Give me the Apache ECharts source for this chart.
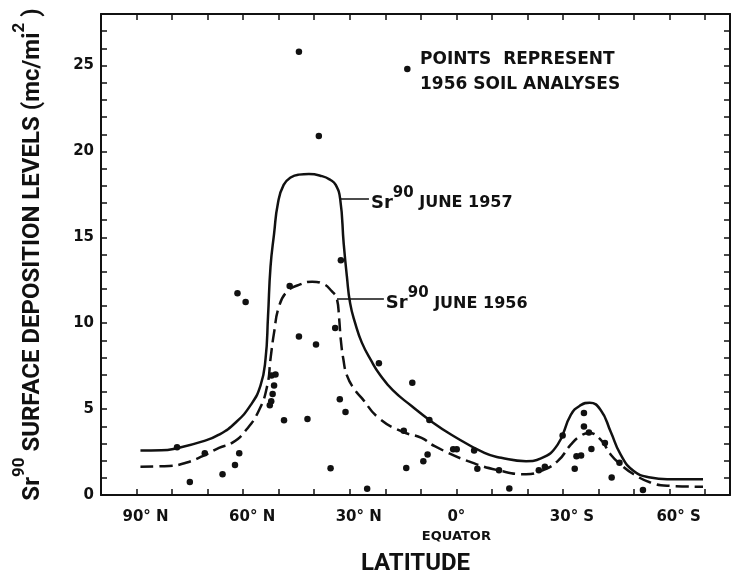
<!DOCTYPE html>
<html><head><meta charset="utf-8">
<script src="https://cdn.jsdelivr.net/npm/echarts@6/dist/echarts.min.js"></script>
<style>html,body{margin:0;padding:0;background:#fff}#c{width:733px;height:581px}</style>
</head><body><div id="c"></div>
<script>
// x value: latitude, north negative, south positive (90N = -90, 60S = 60)
const xTickValues = [-90, -60, -30, 0, 30, 60];
const xTickText = ['90° N', '60° N', '30° N', '0°', '30° S', '60° S'];
const yTickValues = [0, 5, 10, 15, 20, 25];

// 1956 soil analyses (points)
const soilLat = [-78.6,-75.0,-70.8,-65.8,-62.3,-61.1,-61.6,-59.3,-52.0,-50.9,-51.3,-51.7,-52.1,-52.5,-48.5,-46.9,-44.3,-44.3,-41.9,-39.5,-38.7,-34.1,-32.5,-32.8,-31.2,-35.4,-25.1,-21.8,-13.8,-12.4,-14.8,-14.1,-7.6,-8.1,-9.3,-0.9,0.1,5.0,5.9,12.0,14.9,23.2,24.9,29.9,33.3,33.8,35.1,35.9,35.9,37.3,38.0,41.8,45.9,43.7,52.5];
const soilVal = [2.78,0.75,2.43,1.21,1.74,2.43,11.75,11.23,6.96,7.02,6.38,5.88,5.46,5.23,4.35,12.17,25.8,9.22,4.43,8.76,20.9,9.72,13.67,5.58,4.83,1.55,0.37,7.67,24.8,6.53,3.74,1.57,4.37,2.36,1.97,2.66,2.66,2.59,1.53,1.44,0.38,1.44,1.65,3.47,1.53,2.26,2.30,4.77,3.99,3.64,2.68,3.03,1.88,1.02,0.29];

// Sr90 June 1957 (solid)
const lat1957 = [-88.9,-83.0,-78.4,-71.4,-66.8,-62.1,-57.9,-55.1,-53.7,-53.0,-52.3,-51.3,-50.2,-48.6,-46.5,-44.3,-41.5,-37.8,-35.5,-34.0,-32.7,-31.7,-30.8,-29.9,-28.5,-26.6,-23.8,-21.6,-17.9,-12.6,-7.6,-1.4,7.9,12.6,19.6,23.8,28.5,32.2,35.0,37.5,40.6,43.4,46.2,49.9,54.6,59.3,69.4];
const val1957 = [2.59,2.60,2.74,3.12,3.51,4.22,5.23,6.38,7.92,10.4,13.28,15.2,17.0,18.05,18.5,18.65,18.68,18.56,18.35,18.07,17.24,14.62,12.71,11.17,10.02,8.87,7.76,7.03,6.10,5.18,4.37,3.51,2.45,2.17,1.97,2.13,2.93,4.66,5.23,5.37,4.95,3.70,2.36,1.40,1.02,0.92,0.92];

// Sr90 June 1956 (dashed)
const lat1956 = [-88.9,-80.8,-76.1,-71.4,-66.8,-63.0,-59.3,-55.5,-53.2,-52.3,-51.3,-49.9,-47.6,-44.3,-40.6,-37.8,-35.0,-33.6,-33.0,-32.5,-31.8,-30.8,-28.9,-26.6,-21.9,-15.4,-9.8,-6.1,3.3,12.6,19.6,23.8,28.5,32.2,35.0,37.3,40.6,43.4,46.2,49.9,54.6,59.3,69.4];
const val1956 = [1.65,1.69,1.88,2.26,2.74,3.05,3.75,4.95,6.38,7.92,9.45,10.98,11.85,12.23,12.42,12.32,11.85,11.4,10.3,9.0,7.9,6.96,6.21,5.64,4.49,3.70,3.32,2.84,1.97,1.40,1.21,1.40,1.97,2.93,3.45,3.61,3.22,2.36,1.78,1.21,0.73,0.54,0.48];

const INK = '#111';
const zip = (a, b) => a.map((v, i) => [v, b[i]]);

const labelRich = {
  sr: {fontFamily: 'DejaVu Sans', fontWeight: 'bold', fontSize: 18, color: INK, padding: [9, 0, 0, 0]},
  sup: {fontFamily: 'DejaVu Sans', fontWeight: 'bold', fontSize: 15, color: INK, verticalAlign: 'top'},
  t: {fontFamily: 'DejaVu Sans', fontWeight: 'bold', fontSize: 16, color: INK, padding: [9, 0, 0, 0]}
};

function leader(lat, val, idx, len, text) {
  const s = [lat[idx], val[idx]];
  return {
    silent: true,
    symbol: ['arrow', 'none'],
    symbolSize: [6, 0],
    lineStyle: {type: 'solid', color: INK, width: 1.5},
    label: {show: true, position: 'end', distance: 2, formatter: text, rich: labelRich},
    data: [[{coord: s}, {coord: [s[0] + len, s[1]]}]]
  };
}

const axisLineStyle = {onZero: false, lineStyle: {color: INK, width: 2}};
const tickStyle = {inside: true, length: 6, lineStyle: {color: INK, width: 1.5}};
const baseFont = {fontFamily: 'DejaVu Sans', fontWeight: 'bold', color: INK};

const chart = echarts.init(document.getElementById('c'), null, {renderer: 'canvas'});
chart.setOption({
  animation: false,
  backgroundColor: '#fff',
  title: {
    text: 'POINTS  REPRESENT\n1956 SOIL ANALYSES',
    left: 420, top: 47, padding: 0,
    textStyle: {fontFamily: 'DejaVu Sans', fontWeight: 'bold', fontSize: 17, lineHeight: 25, color: INK}
  },
  grid: {left: 101, right: 0, top: 14, bottom: 80},
  xAxis: [{
    type: 'value', min: -100, max: 77, interval: 10, position: 'bottom',
    axisLine: axisLineStyle, axisTick: tickStyle, splitLine: {show: false},
    axisLabel: {
      margin: 12,
      formatter: v => {
        const i = xTickValues.indexOf(Math.round(v));
        if (i < 0 || Math.abs(v - Math.round(v)) > 1e-6) return '';
        if (xTickValues[i] === 0) return '{z|' + xTickText[i] + '}\n{eq|EQUATOR}';
        return '{p|' + xTickText[i] + '}';
      },
      rich: {
        p: Object.assign({fontSize: 15, lineHeight: 20, padding: [0, 0, 0, 18]}, baseFont),
        z: Object.assign({fontSize: 15, lineHeight: 20}, baseFont),
        eq: Object.assign({fontSize: 13, lineHeight: 20}, baseFont)
      }
    },
    name: 'LATITUDE', nameLocation: 'middle', nameGap: 57,
    nameTextStyle: {fontFamily: 'Roboto', fontWeight: 'bold', fontSize: 24, color: INK}
  }, {
    type: 'value', min: -100, max: 77, interval: 10, position: 'top',
    axisLine: axisLineStyle, axisTick: tickStyle, axisLabel: {show: false}, splitLine: {show: false}
  }],
  yAxis: [{
    type: 'value', min: 0, max: 28, interval: 1, position: 'left',
    axisLine: axisLineStyle, axisTick: tickStyle, splitLine: {show: false},
    axisLabel: Object.assign({margin: 7, fontSize: 15,
      formatter: v => yTickValues.indexOf(v) >= 0 ? String(v) : ''}, baseFont),
    name: '{m|Sr}{s|90}{m| SURFACE DEPOSITION LEVELS (mc/mi}{s|2}{m| )}',
    nameLocation: 'middle', nameRotate: 90, nameGap: 56,
    nameTextStyle: {
      rich: {
        m: {fontFamily: 'Roboto', fontWeight: 'bold', fontSize: 24, color: INK, padding: [10, 0, 0, 0]},
        s: {fontFamily: 'Roboto', fontWeight: 'bold', fontSize: 17, color: INK, verticalAlign: 'top'}
      }
    }
  }, {
    type: 'value', min: 0, max: 28, interval: 1, position: 'right',
    axisLine: axisLineStyle, axisTick: tickStyle, axisLabel: {show: false}, splitLine: {show: false}
  }],
  series: [{
    name: 'Sr90 June 1957', type: 'line', data: zip(lat1957, val1957),
    smooth: 0.5, showSymbol: false, symbol: 'none',
    lineStyle: {color: INK, width: 2.5, type: 'solid'},
    markLine: leader(lat1957, val1957, 20, 8.1, '{sr|Sr}{sup|90}{t| JUNE 1957}')
  }, {
    name: 'Sr90 June 1956', type: 'line', data: zip(lat1956, val1956),
    smooth: 0.5, showSymbol: false, symbol: 'none',
    lineStyle: {color: INK, width: 2.5, type: [13, 6]},
    markLine: leader(lat1956, val1956, 17, 13.2, '{sr|Sr}{sup|90}{t| JUNE 1956}')
  }, {
    name: '1956 soil analyses', type: 'scatter', data: zip(soilLat, soilVal),
    symbol: 'circle', symbolSize: 6.5, itemStyle: {color: INK, opacity: 1}
  }]
});
</script></body></html>
